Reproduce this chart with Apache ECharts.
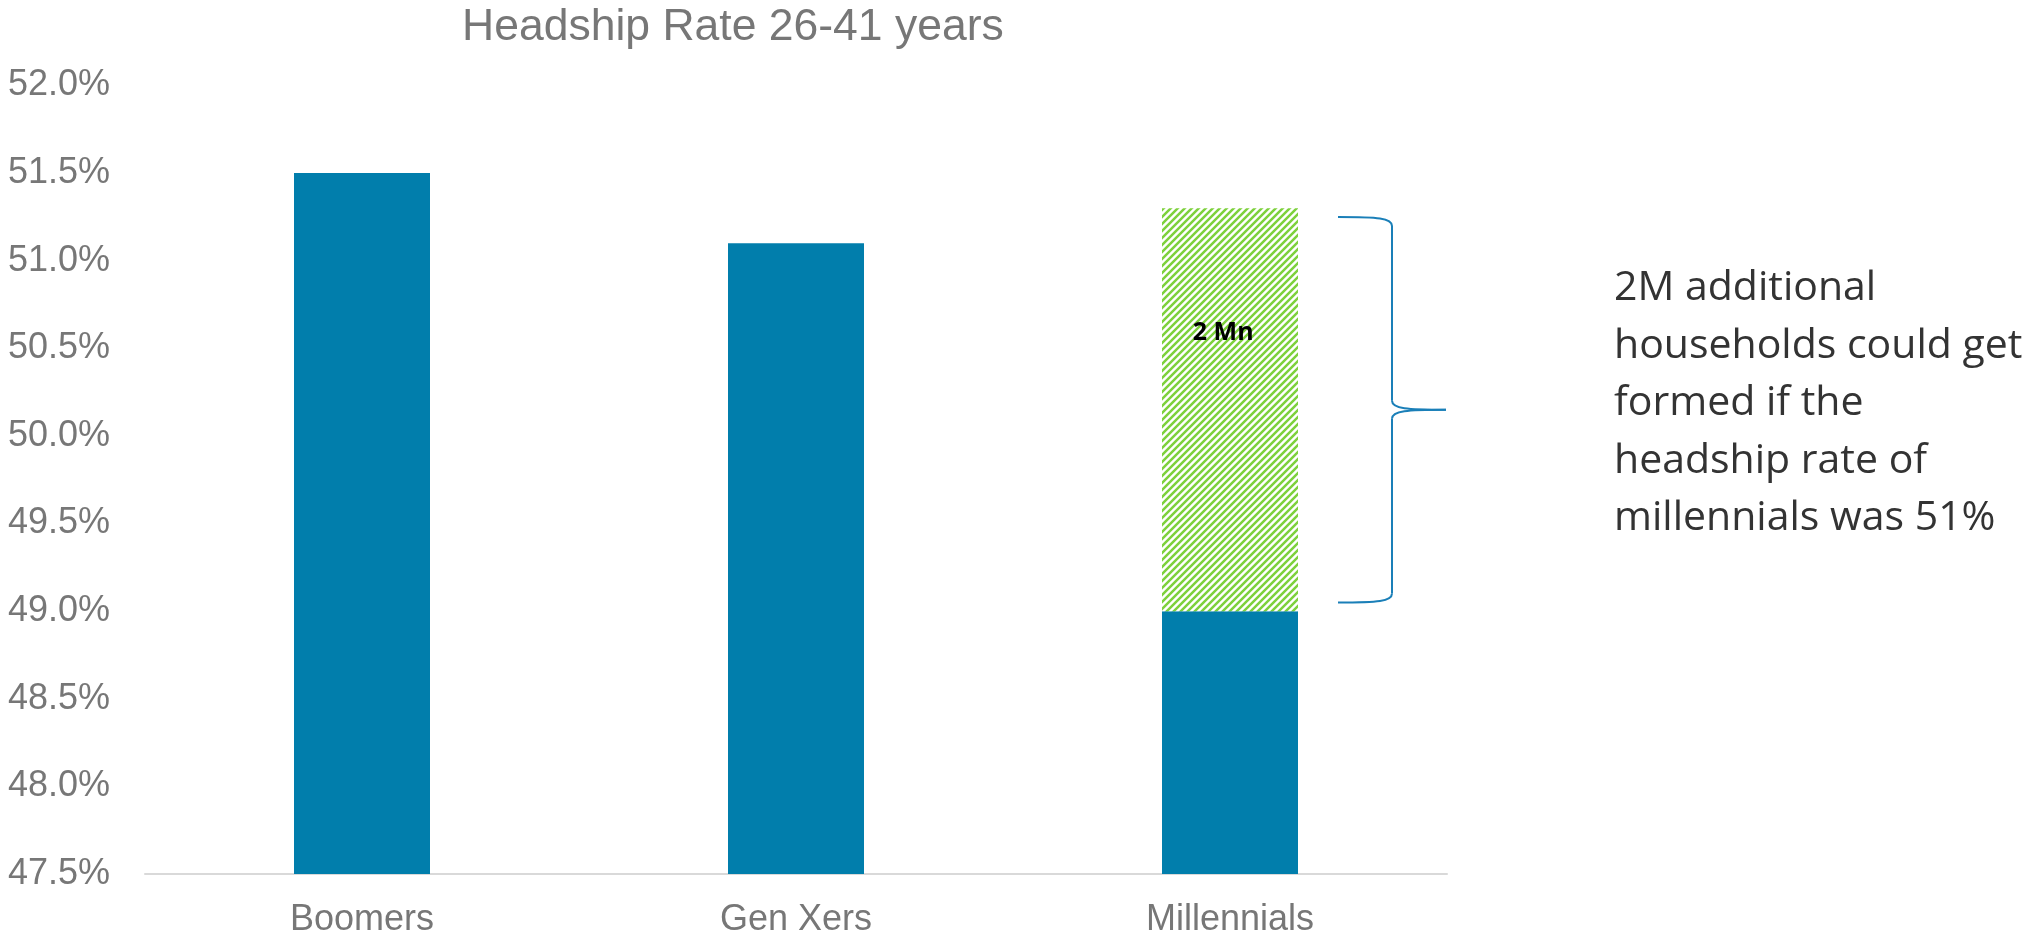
<!DOCTYPE html>
<html>
<head>
<meta charset="utf-8">
<script src="https://cdn.jsdelivr.net/npm/echarts@6/dist/echarts.min.js"></script>
<style>
  html, body { margin: 0; padding: 0; background: #ffffff; }
  #chart { width: 2031px; height: 938px; }
</style>
</head>
<body>
<div id="chart"></div>
<script>
// ---- data ----
const categories = ['Boomers', 'Gen Xers', 'Millennials'];
const headshipRate = [51.5, 51.1, 49.0];          // actual headship rate (%)
const potentialGap = ['-', '-', 2.3];              // extra points up to the potential rate
const gapLabel = '2 Mn';
const yMin = 47.5, yMax = 52.0, yStep = 0.5;
const braceRange = [51.25, 49.05];                 // brace extent (value axis)
const titleText = 'Headship Rate 26-41 years';
const noteLines = [
  '2M additional',
  'households could get',
  'formed if the',
  'headship rate of',
  'millennials was 51%'
];

// ---- styles ----
const BLUE = '#017eac';
const GREEN = '#7dd13c';
const GRAY = '#777777';
const FONT = '"Liberation Sans", Arial, sans-serif';

function makeHatch() {
  const p = 7;
  const c = document.createElement('canvas');
  c.width = p; c.height = p;
  const ctx = c.getContext('2d');
  ctx.fillStyle = '#ffffff';
  ctx.fillRect(0, 0, p, p);
  ctx.strokeStyle = GREEN;
  ctx.lineWidth = 2.5;
  ctx.lineCap = 'square';
  ctx.beginPath();
  ctx.moveTo(0, p); ctx.lineTo(p, 0);
  ctx.moveTo(-p / 2, p / 2); ctx.lineTo(p / 2, -p / 2);
  ctx.moveTo(p / 2, p * 1.5); ctx.lineTo(p * 1.5, p / 2);
  ctx.stroke();
  return c;
}

const chart = echarts.init(document.getElementById('chart'), null, { renderer: 'canvas' });

const option = {
  animation: false,
  backgroundColor: '#ffffff',
  title: {
    text: titleText,
    left: 462,
    top: 5,
    padding: 0,
    textStyle: { fontFamily: FONT, fontSize: 44.5, fontWeight: 'normal', color: GRAY }
  },
  grid: { left: 145, right: 584, top: 85.5, bottom: 63, containLabel: false },
  xAxis: {
    type: 'category',
    data: categories,
    axisLine: { show: true, lineStyle: { color: '#d9d9d9', width: 2 } },
    axisTick: { show: false },
    axisLabel: { fontFamily: FONT, fontSize: 36, color: GRAY, margin: 28 },
    splitLine: { show: false }
  },
  yAxis: {
    type: 'value',
    min: yMin, max: yMax, interval: yStep,
    axisLine: { show: false },
    axisTick: { show: false },
    splitLine: { show: false },
    axisLabel: {
      fontFamily: FONT, fontSize: 36, color: GRAY, margin: 35,
      padding: [7, 0, 0, 0],
      formatter: v => v.toFixed(1) + '%'
    }
  },
  series: [
    {
      name: 'Headship rate',
      type: 'bar',
      stack: 'rate',
      data: headshipRate,
      barWidth: 136,
      itemStyle: { color: BLUE }
    },
    {
      name: 'Potential',
      type: 'bar',
      stack: 'rate',
      data: potentialGap,
      barWidth: 136,
      itemStyle: { color: { image: makeHatch(), repeat: 'repeat' } },
      label: {
        show: true,
        formatter: gapLabel,
        position: ['45%', '31%'],
        align: 'center',
        verticalAlign: 'middle',
        fontFamily: '"Open Sans", "Noto Sans", sans-serif',
        fontWeight: 'bold',
        fontSize: 25,
        color: '#000000'
      }
    }
  ]
};
chart.setOption(option);

// ---- brace + note, positioned from the axes ----
const topPt = chart.convertToPixel({ seriesIndex: 0 }, [2, braceRange[0]]);
const botPt = chart.convertToPixel({ seriesIndex: 0 }, [2, braceRange[1]]);
const cx = topPt[0];
const yT = topPt[1], yB = botPt[1], yM = (yT + yB) / 2;
const x0 = cx + 108, x1 = cx + 162, x2 = cx + 216;
const r = 9;
const braceStyle = { stroke: '#1a7fb8', lineWidth: 2, fill: null };

function curve(a, b, c1, c2) {
  return {
    type: 'bezierCurve',
    shape: { x1: a[0], y1: a[1], x2: b[0], y2: b[1], cpx1: c1[0], cpy1: c1[1], cpx2: c2[0], cpy2: c2[1] },
    style: braceStyle, silent: true
  };
}
function seg(a, b) {
  return {
    type: 'line',
    shape: { x1: a[0], y1: a[1], x2: b[0], y2: b[1] },
    style: braceStyle, silent: true
  };
}

const braceParts = [
  curve([x0, yT], [x1, yT + r], [x0 + 40, yT], [x1, yT + 1]),
  seg([x1, yT + r], [x1, yM - r]),
  curve([x1, yM - r], [x2, yM], [x1, yM - 1], [x1 + 15, yM]),
  curve([x2, yM], [x1, yM + r], [x1 + 15, yM], [x1, yM + 1]),
  seg([x1, yM + r], [x1, yB - r]),
  curve([x1, yB - r], [x0, yB], [x1, yB - 1], [x0 + 40, yB])
];

chart.setOption({
  graphic: braceParts.concat([
    {
      type: 'text',
      x: 1614,
      y: 260,
      style: {
        text: noteLines.join('\n'),
        fontFamily: '"Open Sans", "Noto Sans", sans-serif',
        fontSize: 41,
        lineHeight: 57.5,
        fill: '#333333',
        align: 'left',
        verticalAlign: 'top'
      },
      silent: true
    }
  ])
});
</script>
</body>
</html>
